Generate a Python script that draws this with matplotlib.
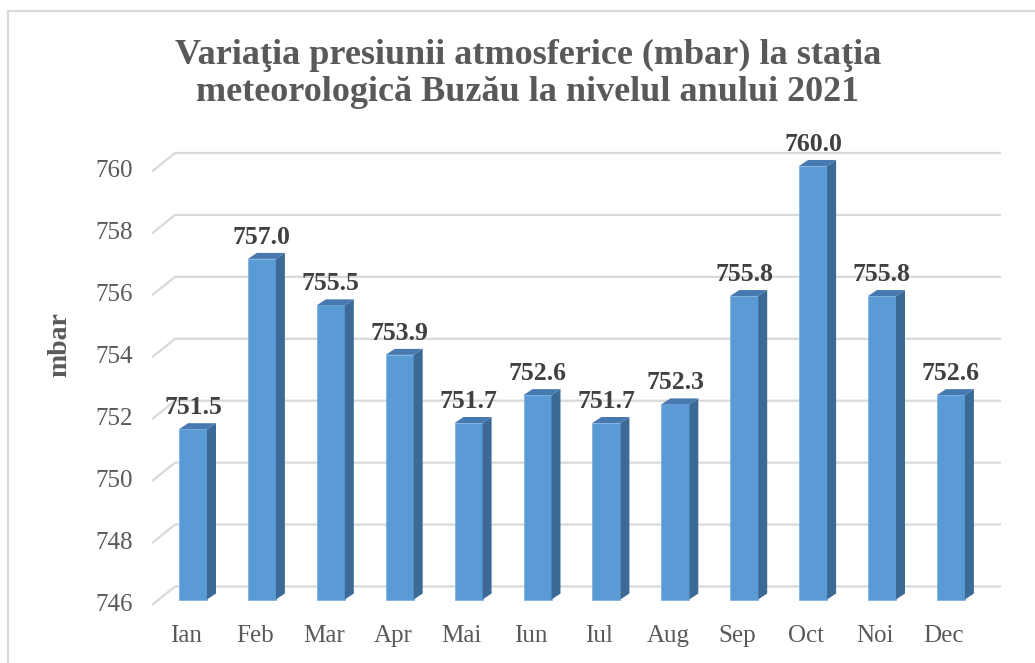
import matplotlib.pyplot as plt
from matplotlib.patches import Polygon, Rectangle

months = ['Ian', 'Feb', 'Mar', 'Apr', 'Mai', 'Iun', 'Iul', 'Aug', 'Sep', 'Oct', 'Noi', 'Dec']
pressure = [751.5, 757.0, 755.5, 753.9, 751.7, 752.6, 751.7, 752.3, 755.8, 760.0, 755.8, 752.6]
y_ticks = [746, 748, 750, 752, 754, 756, 758, 760]
base = 746

W, H = 1035, 663
fig = plt.figure(figsize=(W / 100, H / 100), dpi=100)
plt.rcParams['font.family'] = ['Liberation Serif', 'DejaVu Serif']

# geometria axei (pixeli din imagine)
x0_px, x1_px = 152, 1001
top_px, bot_px = 140, 610
first_px, step_px = 193, 68.9          # centrul primei bare, distanta intre bare
ppu = (599.5 - 166) / 14               # pixeli / mbar pe planul frontal

ax = fig.add_axes([x0_px / W, (H - bot_px) / H, (x1_px - x0_px) / W, (bot_px - top_px) / H])
ax.set_xlim((x0_px - first_px) / step_px, (x1_px - first_px) / step_px)
ax.set_ylim(base - (bot_px - 599.5) / ppu, base + (599.5 - top_px) / ppu)
ax.axis('off')

def dx(p):
    return p / step_px

def dy(p):
    return p / ppu

xl = ax.get_xlim()[0]
xr = ax.get_xlim()[1]
grid_c = '#d9d9d9'
txt_c = '#595959'

# liniile de grila cu perspectiva
for v in y_ticks:
    yf = v - dy(5.5)
    yb = v + dy(13)
    ax.plot([xl, xl + dx(23), xr], [yf, yb, yb], color=grid_c, lw=1.6,
            solid_capstyle='butt', clip_on=False, zorder=1)
    ax.text(xl - dx(19), yf, str(v), ha='right', va='center', fontsize=18,
            color=txt_c, clip_on=False)

# bare 3D
w = 28 / step_px
d, e = dx(9), dy(6)
for i, v in enumerate(pressure):
    a, b = i - w / 2, i + w / 2
    ax.add_patch(Rectangle((a, base), w, v - base, facecolor='#5b9bd5',
                           edgecolor='#7fb2e0', lw=0.6, zorder=3))
    ax.add_patch(Polygon([(b, base), (b, v), (b + d, v + e), (b + d, base + e)],
                         closed=True, facecolor='#3c6a96', edgecolor='none', zorder=3))
    ax.add_patch(Polygon([(a, v), (b, v), (b + d, v + e), (a + d, v + e)],
                         closed=True, facecolor='#4579b0', edgecolor='none', zorder=3))
    ax.text(i, v + dy(15), f'{v:.1f}', ha='center', va='baseline', fontsize=18.5,
            fontweight='bold', color='#404040', zorder=4)
    ax.text(i - dx(7), base - dy(36.5), months[i], ha='center', va='center',
            fontsize=18, color=txt_c, clip_on=False)

fig.text(60 / W, 1 - 345 / H, 'mbar', rotation=90, ha='center', va='center',
         fontsize=20, fontweight='bold', color=txt_c)

fig.text(528 / W, 1 - 74 / H,
         'Variaţia presiunii atmosferice (mbar) la staţia\nmeteorologică Buzău la nivelul anului 2021',
         ha='center', va='center', fontsize=26, fontweight='bold', color=txt_c,
         linespacing=1.17)

# chenarul graficului
fig.patches.append(Rectangle((8 / W, -0.05), 1.1, 1 - 11 / H + 0.05,
                             transform=fig.transFigure, fill=False,
                             edgecolor='#d9d9d9', lw=1.5))

fig.savefig('out.png', dpi=100)
